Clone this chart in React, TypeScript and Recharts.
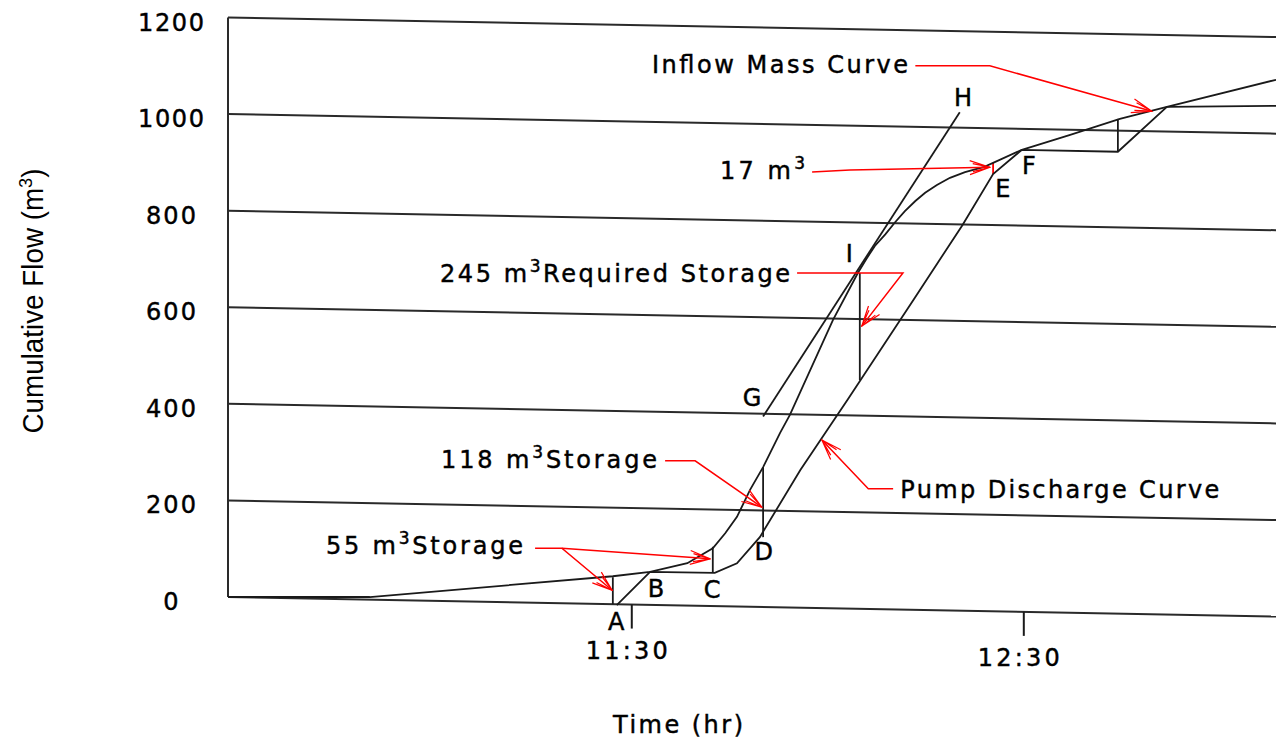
import React from 'react';
import { LineChart, Line, XAxis, YAxis, ReferenceLine, ReferenceDot } from 'recharts';

// time is in minutes after 10:00, flow in m3
const X_MIN = 28.2;
const X_MAX = 188.6;
const Y_MIN = -60;
const Y_MAX = 1200;

const flowTicks = [0, 200, 400, 600, 800, 1000, 1200];
const timeTicks = [90, 150];
const timeLabels = ['11:30', '12:30'];

// the scanned grid is tilted: each gridline loses this much from left to right
const GRID_DROP = 40.5;

const inflowMass = [
  { t: 28.2, v: 0 }, { t: 49.9, v: 0 }, { t: 87.1, v: 43 }, { t: 92.8, v: 52 },
  { t: 98.5, v: 70 }, { t: 102.4, v: 101 }, { t: 104.3, v: 132 }, { t: 106.1, v: 166 },
  { t: 108.1, v: 222 }, { t: 110.1, v: 269 }, { t: 112.7, v: 340 }, { t: 114.2, v: 377 },
  { t: 120.8, v: 574 }, { t: 124.6, v: 671 }, { t: 125.9, v: 700 }, { t: 127.2, v: 727 },
  { t: 128.8, v: 751 }, { t: 130.3, v: 776 }, { t: 131.8, v: 799 }, { t: 133.4, v: 820 },
  { t: 134.9, v: 837 }, { t: 136.7, v: 853 }, { t: 138.7, v: 868 }, { t: 141.0, v: 880 },
  { t: 143.8, v: 890 }, { t: 145.3, v: 899 }, { t: 149.7, v: 926 }, { t: 157.1, v: 957 },
  { t: 164.7, v: 990 }, { t: 171.9, v: 1015 }, { t: 188.6, v: 1071 },
];

const pumpDischarge = [
  { t: 87.7, v: -17 }, { t: 92.8, v: 52 }, { t: 102.7, v: 50 }, { t: 106.1, v: 70 },
  { t: 109.2, v: 118 }, { t: 109.6, v: 124 }, { t: 115.8, v: 263 }, { t: 123.0, v: 408 },
  { t: 133.1, v: 615 }, { t: 140.6, v: 770 }, { t: 145.3, v: 876 }, { t: 149.7, v: 926 },
  { t: 164.4, v: 922 }, { t: 171.9, v: 1015 }, { t: 188.6, v: 1017 },
];

const lineGH = [{ t: 110.1, v: 374 }, { t: 140.2, v: 1004 }];

// vertical storage markers (inflow down to pump)
const storageMarks = [
  { t: 87.1, top: 41, bottom: -15 },
  { t: 102.4, top: 104, bottom: 50 },
  { t: 110.1, top: 269, bottom: 124 },
  { t: 124.9, top: 671, bottom: 449 },
  { t: 164.4, top: 990, bottom: 922 },
];
const mark17 = { t: 145.3, top: 899, bottom: 876 };

// red pointer arrows
const arrowInflow = [{ t: 133.4, v: 1100 }, { t: 144.8, v: 1100 }, { t: 169.6, v: 1006 }];
const arrow17 = [{ t: 117.6, v: 880 }, { t: 123.4, v: 884 }, { t: 144.8, v: 890 }];
const arrow245 = [{ t: 115.3, v: 671 }, { t: 131.5, v: 671 }, { t: 125.2, v: 561 }];
const arrow118 = [{ t: 95.1, v: 282 }, { t: 99.7, v: 282 }, { t: 109.9, v: 186 }];
const arrow55a = [{ t: 75.2, v: 101 }, { t: 79.3, v: 101 }, { t: 87.0, v: 14 }];
const arrow55b = [{ t: 79.3, v: 101 }, { t: 102.0, v: 79 }];
const arrowPump = [{ t: 130.0, v: 224 }, { t: 126.2, v: 224 }, { t: 119.1, v: 325 }];
const arrows = [arrowInflow, arrow17, arrow245, arrow118, arrow55a, arrow55b, arrowPump];

const notes = [
  { text: 'Inflow Mass Curve', t: 93.1, v: 1104 },
  { text: '17 m', sup: '3', t: 103.5, v: 884 },
  { text: '245 m', sup: '3', after: 'Required Storage', t: 60.65, v: 671 },
  { text: '118 m', sup: '3', after: 'Storage', t: 60.8, v: 286 },
  { text: '55 m', sup: '3', after: 'Storage', t: 43.2, v: 108 },
  { text: 'Pump Discharge Curve', t: 131.1, v: 224 },
];

const pointLetters = [
  { id: 'A', t: 87.6, v: -50 },
  { id: 'B', t: 93.7, v: 19 },
  { id: 'C', t: 102.3, v: 17 },
  { id: 'D', t: 110.2, v: 95 },
  { id: 'E', t: 146.8, v: 847 },
  { id: 'F', t: 150.8, v: 895 },
  { id: 'G', t: 108.4, v: 414 },
  { id: 'H', t: 140.7, v: 1036 },
  { id: 'I', t: 123.3, v: 712 },
];

// text widths in the scan
const NOTE_WIDTH: Record<string, number> = {
  'Inflow Mass Curve': 256,
  '17 m': 85,
  '245 m': 350,
  '118 m': 216,
  '55 m': 197,
  'Pump Discharge Curve': 319,
};

const W = 1276;
const H = 742;
const PLOT_LEFT = 228;
const PLOT_TOP = 17.5;
const PLOT_BOTTOM = 626;
const PLOT_W = W - PLOT_LEFT;
const PLOT_H = PLOT_BOTTOM - PLOT_TOP;
const ZERO_Y = PLOT_TOP + (Y_MAX / (Y_MAX - Y_MIN)) * PLOT_H;
const DROP_PX = (GRID_DROP / (Y_MAX - Y_MIN)) * PLOT_H;

const FONT = '"DejaVu Sans", Verdana, sans-serif';
const INK = '#1a1a1a';
const RED = '#ff0000';
// the scan's bitmap font is a bit heavier than DejaVu
const HEAVY = { stroke: '#000', strokeWidth: 0.45 };

const FlowTick = ({ y, payload }: any) => (
  <text x={171} y={y + 13} textAnchor="middle" fontFamily={FONT} fontSize={24} fill="#000"
    textLength={payload.value >= 1000 ? 66 : payload.value >= 100 ? 50 : 16} lengthAdjust="spacing" {...HEAVY}>
    {payload.value}
  </text>
);

const TimeTick = ({ x, payload }: any) => {
  const base = ZERO_Y + ((x - PLOT_LEFT) / PLOT_W) * DROP_PX;
  const label = timeLabels[timeTicks.indexOf(payload.value)];
  return (
    <g>
      <line x1={x} x2={x} y1={base} y2={base + 24} stroke={INK} strokeWidth={2} />
      <text x={x - 5} y={base + 54} textAnchor="middle" fontFamily={FONT} fontSize={24}
        fill="#000" textLength={82} lengthAdjust="spacing" {...HEAVY}>
        {label}
      </text>
    </g>
  );
};

const FlowTitle = () => (
  <text x={43} y={301} transform="rotate(-90, 43, 301)" textAnchor="middle"
    fontFamily='"Liberation Sans", Arial, sans-serif' fontSize={29} fill="#000"
    textLength={265} lengthAdjust="spacingAndGlyphs">
    Cumulative Flow (m<tspan dy={-11} fontSize={19}>3</tspan><tspan dy={11}>)</tspan>
  </text>
);

const TimeTitle = () => (
  <text x={678} y={733} textAnchor="middle" fontFamily={FONT} fontSize={24} fill="#000"
    textLength={130} lengthAdjust="spacing" {...HEAVY}>
    Time (hr)
  </text>
);

const noteShape = (note: any) => (p: any) => (
  <text x={p.cx} y={p.cy + 9} fontFamily={FONT} fontSize={24} fill="#000"
    textLength={NOTE_WIDTH[note.text]} lengthAdjust="spacing" {...HEAVY}>
    {note.text}
    {note.sup && <tspan dy={-10} fontSize={17}>{note.sup}</tspan>}
    {note.after && <tspan dy={10} fontSize={24}>{note.after}</tspan>}
  </text>
);

const letterShape = (id: string) => (p: any) => (
  <text x={p.cx} y={p.cy + 9} textAnchor="middle" fontFamily={FONT} fontSize={24} fill="#000" {...HEAVY}>
    {id}
  </text>
);

export default function App() {
  return (
    <div>
      <style>{'body{margin:0;overflow:hidden;background:#fff}'}</style>
      <svg width={0} height={0} style={{ position: 'absolute' }}>
        <defs>
          <marker id="redHead" viewBox="0 0 22 16" refX={21} refY={8} markerWidth={22}
            markerHeight={16} markerUnits="userSpaceOnUse" orient="auto">
            <path d="M1,1 L21,8 L1,15 M4,4 L21,8 L4,12" fill="none" stroke={RED} strokeWidth={1.2} />
          </marker>
        </defs>
      </svg>
      <LineChart width={W} height={H}
        margin={{ top: PLOT_TOP, right: 0, bottom: H - PLOT_BOTTOM - 60, left: 0 }}>
        <XAxis dataKey="t" type="number" domain={[X_MIN, X_MAX]} allowDataOverflow
          ticks={timeTicks} tick={<TimeTick />} axisLine={false} tickLine={false}
          height={60} label={<TimeTitle />} />
        <YAxis type="number" domain={[Y_MIN, Y_MAX]} allowDataOverflow ticks={flowTicks}
          tick={<FlowTick />} axisLine={false} tickLine={false} width={PLOT_LEFT}
          label={<FlowTitle />} />

        {flowTicks.map((v) => (
          <ReferenceLine key={`g${v}`} ifOverflow="visible" stroke="#2a2a2a" strokeWidth={2}
            segment={[{ x: X_MIN, y: v }, { x: X_MAX, y: v - GRID_DROP }]} />
        ))}
        <ReferenceLine ifOverflow="visible" stroke="#2a2a2a" strokeWidth={2}
          segment={[{ x: X_MIN, y: 0 }, { x: X_MIN, y: Y_MAX }]} />

        {storageMarks.map((m) => (
          <ReferenceLine key={`s${m.t}`} ifOverflow="visible" stroke={INK} strokeWidth={1.8}
            segment={[{ x: m.t, y: m.top }, { x: m.t, y: m.bottom }]} />
        ))}
        <ReferenceLine ifOverflow="visible" stroke={RED} strokeWidth={1.8}
          segment={[{ x: mark17.t, y: mark17.top }, { x: mark17.t, y: mark17.bottom }]} />

        <Line data={inflowMass} dataKey="v" type="linear" stroke={INK} strokeWidth={1.8}
          dot={false} activeDot={false} isAnimationActive={false} />
        <Line data={pumpDischarge} dataKey="v" type="linear" stroke={INK} strokeWidth={1.8}
          dot={false} activeDot={false} isAnimationActive={false} />
        <Line data={lineGH} dataKey="v" type="linear" stroke={INK} strokeWidth={1.8}
          dot={false} activeDot={false} isAnimationActive={false} />

        {arrows.map((pts, i) => (
          <Line key={`a${i}`} data={pts} dataKey="v" type="linear" stroke={RED} strokeWidth={1.5}
            dot={false} activeDot={false} isAnimationActive={false} markerEnd="url(#redHead)" />
        ))}

        {notes.map((n) => (
          <ReferenceDot key={n.text} x={n.t} y={n.v} r={0} ifOverflow="visible" shape={noteShape(n)} />
        ))}
        {pointLetters.map((l) => (
          <ReferenceDot key={l.id} x={l.t} y={l.v} r={0} ifOverflow="visible" shape={letterShape(l.id)} />
        ))}
      </LineChart>
    </div>
  );
}
